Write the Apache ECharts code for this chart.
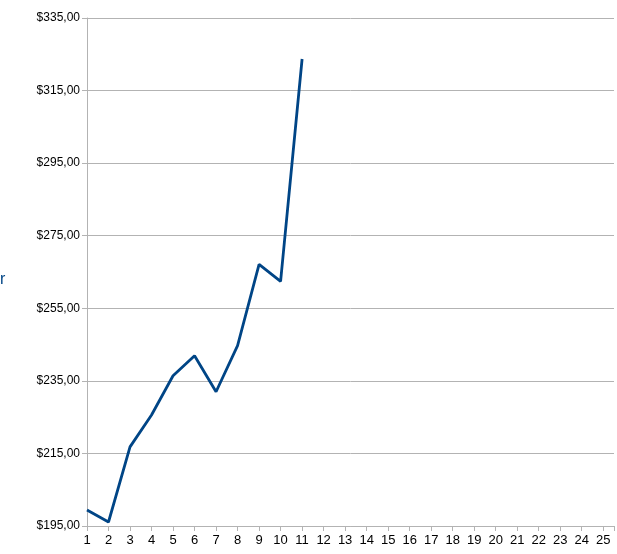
<!DOCTYPE html>
<html>
<head>
<meta charset="utf-8">
<script src="https://cdn.jsdelivr.net/npm/echarts@6/dist/echarts.min.js"></script>
<style>html,body{margin:0;padding:0;background:#fff;}#c{width:617px;height:554px;}</style>
</head>
<body>
<div id="c"></div>
<script>
const xValues = [1, 2, 3, 4, 5, 6, 7, 8, 9, 10, 11];
const prices = [199.4, 196.1, 216.8, 225.6, 236.4, 241.9, 232.0, 244.7, 267.1, 262.4, 323.7];
const yMin = 195, yMax = 335, yStep = 20;
const xMin = 1, xMax = 25.5;

const chart = echarts.init(document.getElementById('c'), null, {renderer: 'canvas'});
chart.setOption({
  animation: false,
  backgroundColor: '#ffffff',
  grid: {left: 87, top: 18, right: 2, bottom: 28, containLabel: false},
  xAxis: {
    type: 'value', min: xMin, max: xMax, interval: 1,
    axisLine: {show: true, lineStyle: {color: '#b3b3b3', width: 1}},
    axisTick: {show: true, length: 5, lineStyle: {color: '#b3b3b3'}},
    splitLine: {show: false},
    axisLabel: {color: '#000', fontFamily: 'Liberation Sans', fontSize: 13, margin: 8,
      formatter: v => (Number.isInteger(v) && v <= 25) ? String(v) : ''}
  },
  yAxis: {
    type: 'value', min: yMin, max: yMax, interval: yStep,
    axisLine: {show: true, lineStyle: {color: '#b3b3b3', width: 1}},
    axisTick: {show: true, length: 5, lineStyle: {color: '#b3b3b3'}},
    splitLine: {show: true, lineStyle: {color: '#b3b3b3', width: 1}},
    axisLabel: {color: '#000', fontFamily: 'Liberation Sans', fontSize: 12, margin: 7,
      formatter: v => '$' + v.toFixed(2).replace('.', ',')}
  },
  graphic: [{type: 'text', left: 0, top: 272, style: {text: 'r', fill: '#004586', font: '16px "Liberation Sans"'}}],
  series: [{
    type: 'line',
    data: xValues.map((x, i) => [x, prices[i]]),
    symbol: 'none',
    lineStyle: {color: '#004586', width: 2.8},
    itemStyle: {color: '#004586'}
  }]
});
</script>
</body>
</html>
